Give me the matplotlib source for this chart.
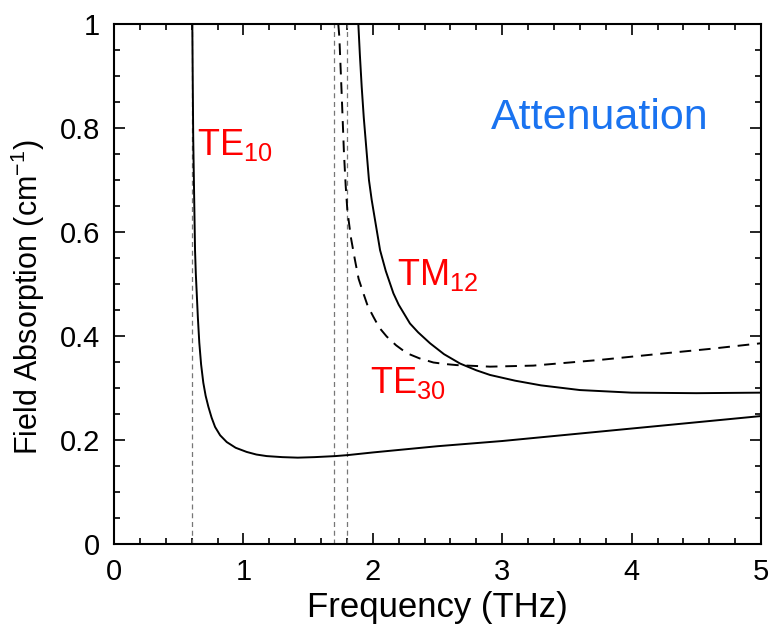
import matplotlib
matplotlib.use("Agg")
import matplotlib.pyplot as plt
from matplotlib.ticker import MultipleLocator

plt.rcParams['font.family'] = ['Liberation Sans', 'DejaVu Sans']
plt.rcParams['mathtext.fontset'] = 'custom'
plt.rcParams['mathtext.rm'] = 'Liberation Sans'
plt.rcParams['mathtext.it'] = 'Liberation Sans:italic'

# TE10 mode attenuation (THz, cm^-1)
te10_freq = [0.605, 0.608, 0.612, 0.618, 0.626, 0.632, 0.639, 0.648, 0.659,
             0.673, 0.690, 0.708, 0.729, 0.754, 0.781, 0.82, 0.871, 0.94,
             1.025, 1.10, 1.18, 1.30, 1.42, 1.55, 1.71, 1.81, 2.0, 2.5, 3.0,
             3.5, 4.0, 4.5, 5.0]
te10_alpha = [1.0, 0.9, 0.78, 0.687, 0.565, 0.52, 0.483, 0.435, 0.387,
              0.345, 0.310, 0.285, 0.264, 0.243, 0.225, 0.209, 0.196, 0.185,
              0.177, 0.172, 0.169, 0.167, 0.166, 0.167, 0.169, 0.171, 0.176,
              0.188, 0.198, 0.210, 0.222, 0.234, 0.246]

# TM12 mode attenuation
tm12_freq = [1.888, 1.90, 1.914, 1.93, 1.953, 1.97, 1.991, 2.017, 2.056, 2.10,
             2.159, 2.2, 2.287, 2.35, 2.442, 2.55, 2.674, 2.8, 2.906, 3.1, 3.3,
             3.6, 4.0, 4.5, 5.0]
tm12_alpha = [1.0, 0.94, 0.879, 0.82, 0.751, 0.70, 0.662, 0.623, 0.565, 0.525,
              0.482, 0.46, 0.424, 0.407, 0.386, 0.365, 0.347, 0.334, 0.325,
              0.314, 0.305, 0.296, 0.291, 0.290, 0.291]

# TE30 mode attenuation
te30_freq = [1.733, 1.741, 1.759, 1.777, 1.79, 1.803, 1.83, 1.862, 1.89,
             1.927, 1.96, 2.004, 2.05, 2.107, 2.18, 2.262, 2.36, 2.468, 2.56,
             2.648, 2.906, 3.24, 3.756, 4.27, 4.6, 5.0]
te30_alpha = [1.0, 0.976, 0.867, 0.751, 0.69, 0.642, 0.59, 0.546, 0.51,
              0.482, 0.458, 0.437, 0.416, 0.399, 0.382, 0.367, 0.357, 0.349,
              0.346, 0.344, 0.341, 0.343, 0.354, 0.367, 0.375, 0.386]

# cutoff frequencies
cutoffs = [0.6, 1.7, 1.8]

x_ticks = [0, 1, 2, 3, 4, 5]
y_ticks = [0, 0.2, 0.4, 0.6, 0.8, 1]
y_tick_labels = ['0', '0.2', '0.4', '0.6', '0.8', '1']

fig = plt.figure(figsize=(7.72, 6.36), dpi=100)
ax = fig.add_axes([0.1477, 0.1447, 0.8381, 0.8176])

for fc in cutoffs:
    ax.axvline(fc, color='#777777', lw=0.9, ls=(0, (4, 3)))

ax.plot(te10_freq, te10_alpha, color='black', lw=1.4)
ax.plot(tm12_freq, tm12_alpha, color='black', lw=1.4)
ax.plot(te30_freq, te30_alpha, color='black', lw=1.4, ls=(0, (6, 4)))

ax.set_xlim(0, 5)
ax.set_ylim(0, 1)
ax.set_xticks(x_ticks)
ax.set_yticks(y_ticks)
ax.set_yticklabels(y_tick_labels)
ax.xaxis.set_minor_locator(MultipleLocator(0.2))
ax.yaxis.set_minor_locator(MultipleLocator(0.05))
ax.tick_params(which='both', direction='in', top=True, right=True,
               width=1.2, labelsize=21)
ax.tick_params(which='major', length=8, pad=10)
ax.tick_params(which='minor', length=4)
for sp in ax.spines.values():
    sp.set_linewidth(1.5)

ax.set_xlabel('Frequency (THz)', fontsize=25)
ax.xaxis.set_label_coords(0.5, -0.09)
ax.set_ylabel('Field Absorption (cm$^{-1}$)', fontsize=22)
ax.yaxis.set_label_coords(-0.104, 0.475)

ax.text(0.64, 0.748, 'TE$_{10}$', color='red', fontsize=26, va='baseline')
ax.text(2.19, 0.498, 'TM$_{12}$', color='red', fontsize=26, va='baseline')
ax.text(1.98, 0.29, 'TE$_{30}$', color='red', fontsize=26, va='baseline')
ax.text(2.91, 0.82, 'Attenuation', color='#1a73f0', fontsize=31, va='center')

fig.savefig('out.png', dpi=100)
